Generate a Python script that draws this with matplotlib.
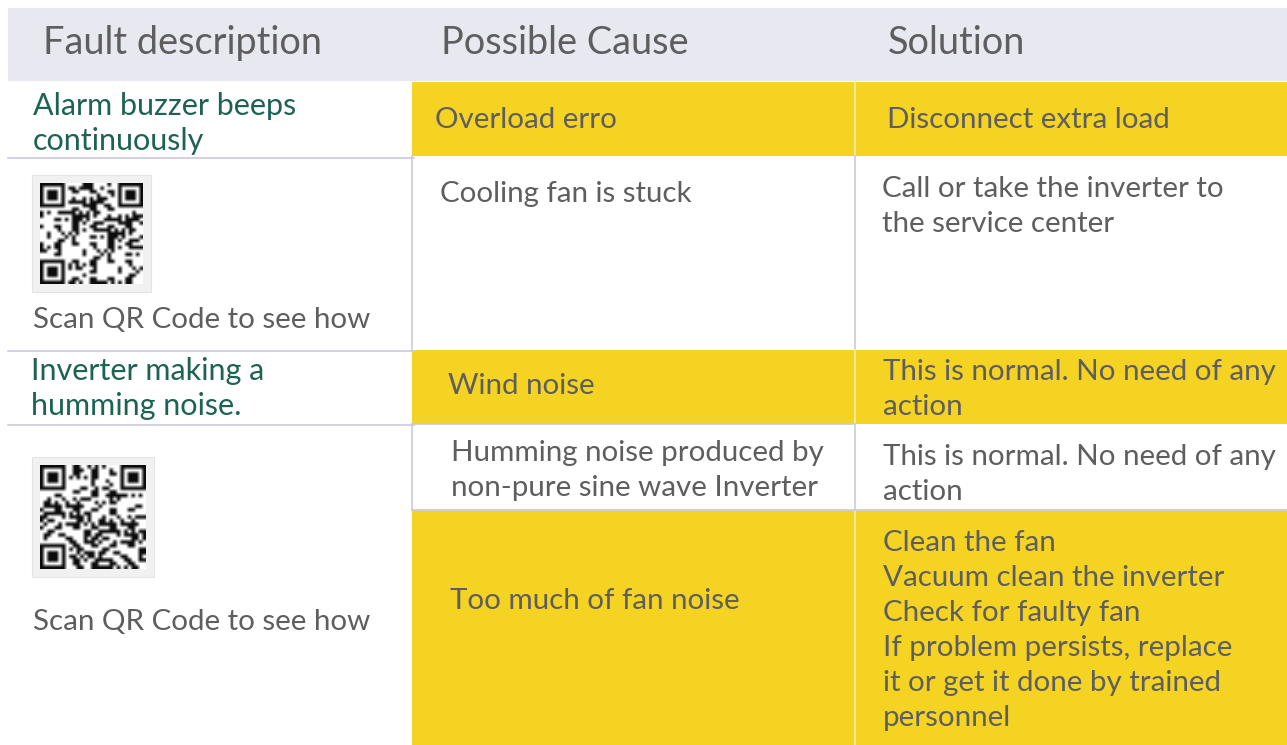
import matplotlib
matplotlib.use("Agg")
import matplotlib.pyplot as plt
from matplotlib.patches import Rectangle
import numpy as np

# ---------------- data ----------------
headers = ["Fault description", "Possible Cause", "Solution"]
faults = ["Alarm buzzer beeps\ncontinuously", "Inverter making a\nhumming noise."]
qr_caption = "Scan QR Code to see how"
causes = [
    "Overload erro",
    "Cooling fan is stuck",
    "Wind noise",
    "Humming noise produced by\nnon-pure sine wave Inverter",
    "Too much of fan noise",
]
solutions = [
    "Disconnect extra load",
    "Call or take the inverter to\nthe service center",
    "This is normal. No need of any\naction",
    "This is normal. No need of any\naction",
    "Clean the fan\nVacuum clean the inverter\nCheck for faulty fan\nIf problem persists, replace\nit or get it done by trained\npersonnel",
]
row_highlight = [True, False, True, False, True]

# ---------------- style ----------------
W, H = 1287, 745
FONT = "Lato"
HEADER_BG = "#E8E8F0"
YELLOW = "#F5D322"
GREY = "#5E5E60"
GREEN = "#1E6253"
LINE = "#C9CADF"
YLINE = "#FCEFA8"

fig = plt.figure(figsize=(W / 100, H / 100), dpi=100)
ax = fig.add_axes([0, 0, 1, 1])
ax.set_xlim(0, W)
ax.set_ylim(H, 0)
ax.axis("off")
fig.patch.set_facecolor("white")
renderer = fig.canvas.get_renderer()


def fit_size(text, target_px):
    t = ax.text(0, 0, text, fontsize=20, family=FONT)
    w = t.get_window_extent(renderer).width
    t.remove()
    return 20 * target_px / w


fs_header = fit_size(headers[0], 280)
fs_body = fit_size(qr_caption, 337)
fs_green = fit_size("Alarm buzzer beeps", 264)

LS = 35  # line spacing in px


def put(text, x, y0, size, color):
    for k, line in enumerate(text.split("\n")):
        ax.text(x, y0 + k * LS, line, fontsize=size, family=FONT, color=color,
                ha="left", va="baseline")


# header band
ax.add_patch(Rectangle((8, 8), W - 8, 73, facecolor=HEADER_BG, edgecolor="none"))
header_x = [43, 441, 888]
for txt, x in zip(headers, header_x):
    ax.text(x, 54, txt, fontsize=fs_header, family=FONT, color=GREY,
            ha="left", va="baseline")

# right part rows
col_x = [412, 855, W]
row_y = [82, 156, 350, 424, 510, H]
for i, hl in enumerate(row_highlight):
    y0, y1 = row_y[i], row_y[i + 1]
    if hl:
        ax.add_patch(Rectangle((col_x[0], y0), col_x[2] - col_x[0], y1 - y0,
                               facecolor=YELLOW, edgecolor="none"))
        ax.plot([col_x[1], col_x[1]], [y0, y1], color=YLINE, lw=1.2)
    else:
        ax.plot([col_x[1], col_x[1]], [y0, y1], color=LINE, lw=1.2)
        ax.plot([col_x[0], col_x[0]], [y0, y1], color=LINE, lw=1.2)

# row 4 cause cell border / bottom line
ax.plot([col_x[0], col_x[1]], [424, 424], color=LINE, lw=1.2)
ax.plot([col_x[0], W], [510, 510], color=LINE, lw=1.2)

# left column horizontal lines
for y in [158, 351, 425]:
    ax.plot([8, 414], [y, y], color=LINE, lw=1.2)

# cause / solution texts
cause_pos = [(435, 128), (440, 202), (448, 394), (451, 461), (450, 609)]
sol_pos = [(887, 128), (882, 197), (883, 380), (883, 465), (883, 551)]
for txt, (x, y) in zip(causes, cause_pos):
    put(txt, x, y, fs_body, GREY)
for txt, (x, y) in zip(solutions, sol_pos):
    put(txt, x, y, fs_body, GREY)

# fault descriptions
fault_pos = [(33, 115), (31, 380)]
for txt, (x, y) in zip(faults, fault_pos):
    put(txt, x, y, fs_green, GREEN)

# captions
for y in [328, 630]:
    ax.text(33, y, qr_caption, fontsize=fs_body, family=FONT, color=GREY,
            ha="left", va="baseline")


# QR code pictures (decorative)
def qr_matrix(seed_text, n=29):
    m = np.zeros((n, n))
    codes = [ord(c) for c in seed_text]
    for i in range(n):
        for j in range(n):
            c = codes[(i * n + j) % len(codes)]
            m[i, j] = 1 if ((c * (i + 3) + j * 7 + i * j) % 5) < 2 else 0

    def finder(r, c):
        m[r:r + 7, c:c + 7] = 1
        m[r + 1:r + 6, c + 1:c + 6] = 0
        m[r + 2:r + 5, c + 2:c + 5] = 1

    m[0:8, 0:8] = 0
    m[0:8, n - 8:n] = 0
    m[n - 8:n, 0:8] = 0
    finder(0, 0)
    finder(0, n - 7)
    finder(n - 7, 0)
    return m


qr_boxes = [(32, 151, 175, 292), (32, 154, 457, 577)]
for k, (x0, x1, y0, y1) in enumerate(qr_boxes):
    ax.add_patch(Rectangle((x0, y0), x1 - x0, y1 - y0, facecolor="#F1F1F1",
                           edgecolor="#E4E4E4", lw=0.8))
    m = qr_matrix(faults[k].replace("\n", " "))
    pad = 8
    rgb = np.where(m[..., None] > 0, 0.05, 1.0) * np.ones(3)
    ax.imshow(rgb, extent=(x0 + pad, x1 - pad, y1 - pad, y0 + pad),
              interpolation="bilinear", zorder=3, aspect="auto")

ax.set_xlim(0, W)
ax.set_ylim(H, 0)
fig.savefig("out.png", dpi=100, facecolor="white")
